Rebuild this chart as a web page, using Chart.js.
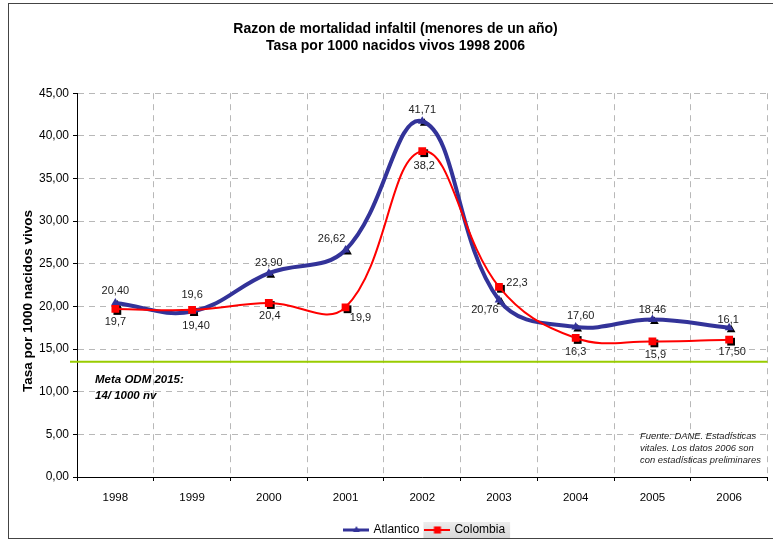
<!DOCTYPE html>
<html>
<head>
<meta charset="utf-8">
<script src="https://cdn.jsdelivr.net/npm/chart.js@4.4.1/dist/chart.umd.min.js"></script>
<style>
  html, body { margin: 0; padding: 0; background: #fff; }
</style>
</head>
<body>
<canvas id="chart" width="773" height="541"></canvas>
<script>
// data
const years = ['1998', '1999', '2000', '2001', '2002', '2003', '2004', '2005', '2006'];
const atlantico = [20.40, 19.40, 23.90, 26.62, 41.71, 20.76, 17.60, 18.46, 17.50];
const colombia = [19.7, 19.6, 20.4, 19.9, 38.2, 22.3, 16.3, 15.9, 16.1];
const atlanticoLabels = ['20,40', '19,40', '23,90', '26,62', '41,71', '20,76', '17,60', '18,46', '17,50'];
const colombiaLabels = ['19,7', '19,6', '20,4', '19,9', '38,2', '22,3', '16,3', '15,9', '16,1'];
const metaOdm = 13.5;

const titleLines = ['Razon de mortalidad infaltil (menores de un año)', 'Tasa por 1000 nacidos vivos 1998 2006'];
const yTitle = 'Tasa por 1000 nacidos vivos';
const metaText = ['Meta ODM 2015:', '14/ 1000 nv'];
const sourceText = ['Fuente: DANE. Estadísticas', 'vitales. Los datos 2006 son', 'con estadísticas preliminares'];

// where each value label sits relative to its point (px)
const labelOffsets = [
  [[0, -12], [4, 14], [0, -10], [-14, -11], [0, -11], [-14, 10], [5, -11], [0, -10], [3, 24]],
  [[0, 13], [0, -15], [1, 13], [15, 11], [2, 15], [18, -4], [0, 14], [3, 14], [-1, -20]]
];

const FONT = '"Liberation Sans", Arial, sans-serif';

function markerPath(ctx, style, x, y, r) {
  ctx.beginPath();
  if (style === 'triangle') {
    ctx.moveTo(x, y - r);
    ctx.lineTo(x + r * 0.866, y + r / 2);
    ctx.lineTo(x - r * 0.866, y + r / 2);
  } else {
    const h = r * Math.SQRT1_2;
    ctx.rect(x - h, y - h, h * 2, h * 2);
  }
  ctx.closePath();
}

function legendIcon(color, width, style, r) {
  const c = document.createElement('canvas');
  c.width = 26; c.height = 12;
  const g = c.getContext('2d');
  g.strokeStyle = color;
  g.lineWidth = width;
  g.beginPath(); g.moveTo(0, 6); g.lineTo(26, 6); g.stroke();
  g.fillStyle = color;
  markerPath(g, style, 13, 6, r);
  g.fill();
  return c;
}

const extras = {
  id: 'extras',
  afterLayout(chart) {
    // legend sits centred under the plot area, not the whole canvas
    const lg = chart.legend;
    const shift = (chart.chartArea.left + chart.chartArea.right) / 2 - (lg.left + lg.right) / 2 + 3;
    lg.left += shift;
    lg.right += shift;
    lg.top += 5;
    lg.bottom += 5;
    // title a little right of centre
    chart.titleBlock.left += 9;
    chart.titleBlock.right += 9;
  },
  beforeDraw(chart) {
    const ctx = chart.ctx;
    // grey backdrop behind second legend entry
    const hb = chart.legend.legendHitBoxes[1];
    if (hb) {
      const grad = ctx.createLinearGradient(0, hb.top - 3, 0, hb.top + hb.height + 3);
      grad.addColorStop(0, '#eeeeee');
      grad.addColorStop(1, '#d6d6d6');
      ctx.save();
      ctx.fillStyle = grad;
      ctx.fillRect(hb.left - 3, hb.top - 2, hb.width + 8, hb.height + 4);
      ctx.restore();
    }
  },
  beforeDatasetsDraw(chart) {
    const ctx = chart.ctx;
    const y = chart.scales.y.getPixelForValue(metaOdm);
    ctx.save();
    ctx.strokeStyle = '#99cc00';
    ctx.lineWidth = 2;
    ctx.beginPath();
    ctx.moveTo(70, y);
    ctx.lineTo(chart.chartArea.right, y);
    ctx.stroke();
    // black marker shadows
    ctx.fillStyle = '#000';
    chart.data.datasets.forEach((ds, i) => {
      chart.getDatasetMeta(i).data.forEach(pt => {
        markerPath(ctx, ds.pointStyle, pt.x + 2, pt.y + 2, ds.pointRadius);
        ctx.fill();
      });
    });
    ctx.restore();
  },
  afterDatasetsDraw(chart) {
    const ctx = chart.ctx;
    const texts = [atlanticoLabels, colombiaLabels];
    ctx.save();
    ctx.font = '11px ' + FONT;
    ctx.fillStyle = '#222';
    ctx.textAlign = 'center';
    ctx.textBaseline = 'middle';
    texts.forEach((arr, i) => {
      chart.getDatasetMeta(i).data.forEach((pt, j) => {
        const off = labelOffsets[i][j];
        ctx.fillText(arr[j], pt.x + off[0], pt.y + off[1]);
      });
    });
    ctx.restore();
  },
  afterDraw(chart) {
    const ctx = chart.ctx;
    ctx.save();
    // axis title
    ctx.translate(28, 301);
    ctx.rotate(-Math.PI / 2);
    ctx.font = 'bold 13.5px ' + FONT;
    ctx.fillStyle = '#000';
    ctx.textAlign = 'center';
    ctx.textBaseline = 'middle';
    ctx.fillText(yTitle, 0, 0);
    ctx.restore();

    ctx.save();
    ctx.fillStyle = '#000';
    ctx.textBaseline = 'middle';
    ctx.font = 'italic bold 11.5px ' + FONT;
    metaText.forEach((t, i) => ctx.fillText(t, 95, 380 + i * 16));
    ctx.fillStyle = '#222';
    ctx.font = 'italic 9.4px ' + FONT;
    sourceText.forEach((t, i) => ctx.fillText(t, 640, 436 + i * 12.3));
    // outer frame
    ctx.strokeStyle = '#444';
    ctx.lineWidth = 1;
    ctx.strokeRect(8.5, 3.5, 772, 535);
    ctx.restore();
  }
};

new Chart(document.getElementById('chart'), {
  type: 'line',
  data: {
    labels: years,
    datasets: [
      {
        label: 'Atlantico',
        data: atlantico,
        borderColor: '#333399',
        backgroundColor: '#333399',
        borderWidth: 4,
        pointStyle: 'triangle',
        pointRadius: 5,
        pointBorderWidth: 0,
        pointBackgroundColor: '#333399',
        tension: 0.4,
        order: 1
      },
      {
        label: 'Colombia',
        data: colombia,
        borderColor: '#ff0000',
        backgroundColor: '#ff0000',
        borderWidth: 2,
        pointStyle: 'rect',
        pointRadius: 5.5,
        pointBorderWidth: 0,
        pointBackgroundColor: '#ff0000',
        tension: 0.4,
        order: 0
      }
    ]
  },
  options: {
    responsive: false,
    animation: false,
    layout: { padding: { left: 0, right: 0, top: 0, bottom: 0 } },
    scales: {
      x: {
        offset: true,
        grid: { offset: true, color: '#b8b8b8', tickColor: '#000', tickLength: 4 },
        border: { color: '#000', width: 1, dash: [6, 5] },
        ticks: { color: '#000', font: { family: FONT, size: 11.5 }, padding: 10, maxRotation: 0 },
        afterFit(scale) { scale.height = 35; }
      },
      y: {
        min: 0,
        max: 45,
        grid: { color: '#b8b8b8', tickColor: '#000', tickLength: 4 },
        border: { color: '#000', width: 1, dash: [6, 5] },
        ticks: {
          stepSize: 5,
          color: '#000',
          padding: 4,
          font: { family: FONT, size: 12 },
          callback: v => v.toFixed(2).replace('.', ',')
        },
        afterFit(scale) { scale.width = 77; }
      }
    },
    plugins: {
      tooltip: { enabled: false },
      title: {
        display: true,
        text: titleLines,
        color: '#000',
        font: { family: FONT, size: 14, weight: 'bold', lineHeight: 1.15 },
        padding: { top: 21.5, bottom: 39.5 }
      },
      legend: {
        position: 'bottom',
        labels: {
          color: '#000',
          font: { family: FONT, size: 12 },
          padding: 7,
          usePointStyle: true,
          pointStyleWidth: 22,
          sort: (a, b) => a.datasetIndex - b.datasetIndex,
          generateLabels(chart) {
            const icons = [legendIcon('#333399', 3, 'triangle', 4), legendIcon('#ff0000', 2, 'rect', 5)];
            return chart.data.datasets.map((ds, i) => ({
              text: ds.label,
              pointStyle: icons[i],
              fillStyle: ds.borderColor,
              strokeStyle: ds.borderColor,
              lineWidth: 0,
              fontColor: '#000',
              hidden: false,
              datasetIndex: i
            }));
          }
        }
      }
    }
  },
  plugins: [extras]
});
</script>
</body>
</html>
